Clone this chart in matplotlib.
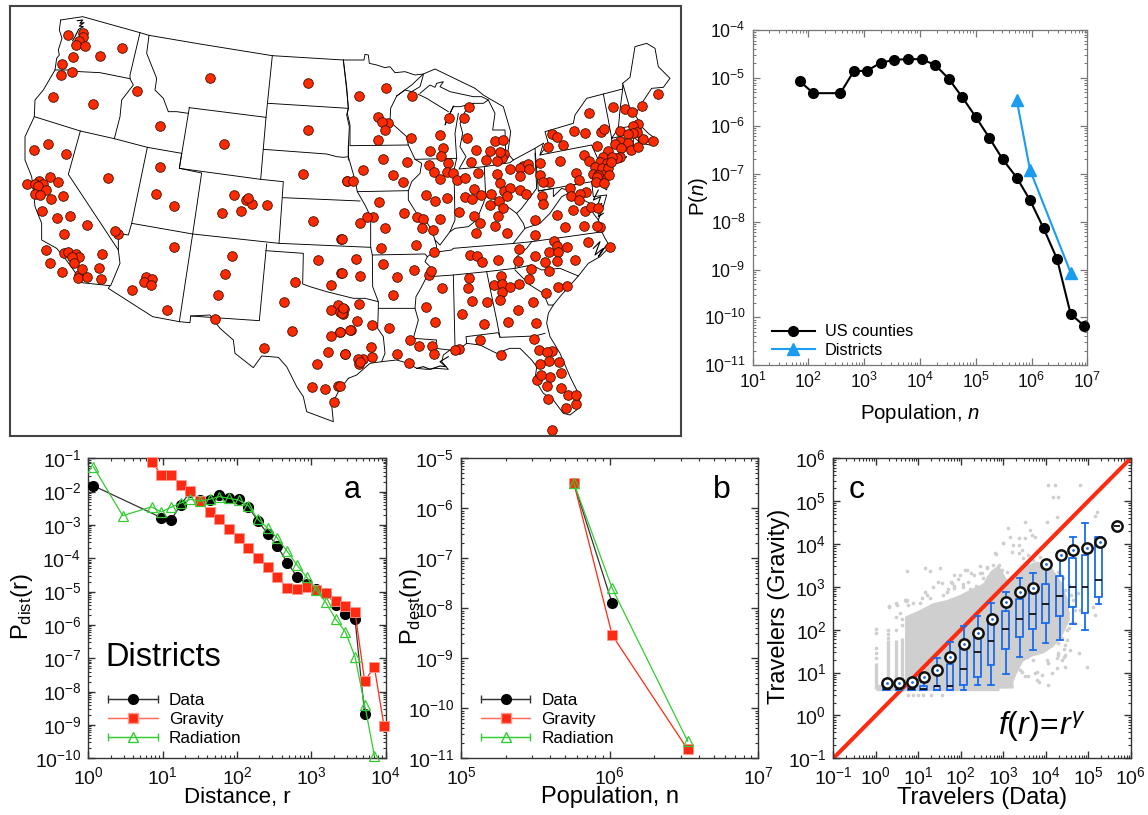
import numpy as np
import matplotlib
matplotlib.use("Agg")
import matplotlib.pyplot as plt
from matplotlib.ticker import LogLocator, NullFormatter
from matplotlib.container import ErrorbarContainer
from matplotlib.legend_handler import HandlerErrorbar

plt.rcParams['font.family'] = ['Liberation Sans', 'DejaVu Sans']
plt.rcParams['mathtext.fontset'] = 'custom'
plt.rcParams['mathtext.rm'] = 'Liberation Sans'
plt.rcParams['mathtext.it'] = 'Liberation Sans:italic'
plt.rcParams['mathtext.bf'] = 'Liberation Sans:bold'
plt.rcParams['mathtext.fallback'] = 'stix'

W, H = 1148, 815

# ---- map sites (map units, west and east halves of the map) ----
sites_west = [(204,105),(250,98),(248,110),(236,124),(229,136),(254,138),(300,167),(365,145),(218,171),(186,193),(215,215),(182,225),(412,273),(158,292),(280,311),(480,378),(631,234),(924,248),(923,389),(145,432),(101,451),(198,461),(671,432),(480,500),(325,533),(149,530),(173,545),(81,551),(118,543),(105,552),(128,552),(113,558),(139,570),(104,582),(120,586),(153,597),(188,587),(468,582),(522,619),(127,632),(170,654),(211,647),(261,675),(191,701),(355,702),(346,694),(702,584),(737,600),(756,612),(745,595),(800,615),(667,639),(722,634),(909,522),(1040,543),(938,662),(1023,718),(137,749),(150,789),(185,815),(193,760),(205,755),(228,762),(238,772),(215,770),(222,790),(305,762),(298,803),(302,838),(236,824),(233,835),(245,808),(260,831),(523,740),(695,769),(675,821),(653,884),(646,956),(395,871),(438,830),(456,838),(431,847),(454,856),(500,930),(886,845),(853,906),(875,992),(791,1043),(953,780),(1022,820),(993,855),(1015,915),(992,930),(1030,943),(1020,935),(1032,926),(1021,997),(994,1008),(984,1055),(1036,1062),(951,1093),(936,1161),(975,1166),(1013,1157),(1001,1207)]
sites_east = [(138,264),(56,289),(216,288),(115,350),(143,368),(127,367),(135,390),(115,420),(214,414),(128,478),(68,511),(20,543),(38,543),(158,524),(188,545),(201,487),(299,406),(270,452),(308,443),(304,467),(268,494),(323,490),(283,516),(320,515),(339,520),(300,538),(350,540),(376,533),(326,355),(372,353),(387,321),(382,413),(407,450),(392,487),(413,519),(438,481),(449,452),(464,423),(488,421),(492,462),(485,475),(472,482),(480,455),(509,506),(471,522),(481,549),(402,568),(376,592),(396,597),(423,585),(452,582),(257,585),(286,604),(322,594),(117,606),(192,638),(232,650),(248,657),(300,658),(247,685),(280,691),(134,683),(98,652),(82,652),(61,669),(123,743),(227,734),(283,757),(358,635),(403,649),(419,668),(409,698),(464,678),(502,700),(451,615),(476,604),(488,625),(475,647),(493,574),(510,564),(501,587),(541,571),(558,583),(548,498),(540,503),(565,491),(568,508),(541,528),(601,488),(659,483),(599,525),(627,545),(609,545),(606,587),(610,613),(585,659),(584,705),(651,644),(700,630),(675,681),(732,679),(736,632),(753,622),(775,625),(781,680),(770,677),(810,741),(743,725),(689,564),(693,589),(737,575),(720,583),(716,600),(707,518),(718,541),(731,466),(746,484),(771,437),(636,401),(651,412),(670,435),(623,442),(701,394),(734,400),(748,339),(784,395),(791,386),(820,320),(855,326),(875,336),(905,318),(955,281),(839,394),(895,372),(880,377),(940,424),(910,416),(892,397),(880,398),(863,403),(839,424),(825,432),(865,428),(843,445),(874,450),(893,440),(805,454),(790,470),(840,470),(830,475),(815,470),(780,485),(800,490),(765,500),(785,505),(805,505),(812,485),(760,522),(790,525),(808,525),(775,525),(770,530),(768,547),(793,548),(641,722),(650,737),(626,757),(653,757),(681,740),(650,783),(616,786),(706,779),(585,768),(537,747),(534,784),(573,807),(566,838),(628,814),(537,851),(474,781),(390,765),(412,767),(425,787),(387,833),(383,865),(268,826),(273,812),(305,863),(257,920),(286,966),(395,902),(442,907),(367,943),(432,971),(482,828),(461,855),(487,852),(509,862),(485,875),(481,900),(534,930),(580,907),(618,880),(653,860),(682,857),(503,966),(587,970),(582,1017),(420,1021),(358,1047),(345,1049),(482,1064),(636,1052),(598,1049),(621,1057),(627,1084),(601,1092),(656,1086),(663,1119),(631,1131),(592,1140),(603,1125),(621,1158),(663,1163),(685,1184),(709,1213),(708,1186),(677,1224),(624,1197),(637,1289),(57,912),(5,940),(10,925),(51,964),(97,975),(34,990),(146,983),(0,997),(30,990),(16,1062),(92,1042),(70,1078),(96,1072),(55,1078),(58,1092),(60,1085),(172,1062),(206,1088),(211,1019),(238,1039),(275,1038),(283,1063),(47,777),(129,793),(171,831),(222,809),(61,828),(5,820),(5,718),(158,885),(0,1158)]

# ---- map borders ----
borders_west = [
 [(182,60),(178,90),(186,115),(175,150),(178,165),(170,175),(165,210),(130,270),(105,300),(103,350),(75,410),(75,480),(95,530),(100,570),(105,620),(125,670),(125,720),(170,745),(195,775),(235,830),(245,848),(330,857),(325,865),(458,950),(538,965),(570,968),(572,948),(630,945),(660,985),(700,1020),(705,1060),(760,1103),(785,1068),(835,1072),(860,1100),(890,1160),(910,1190),(920,1235),(1000,1265),(995,1215),(1015,1175),(1045,1135)],
 [(182,60),(248,50),(420,98),(447,106),(600,132),(817,167),(1030,180)],
 [(165,210),(215,210),(240,215),(300,218),(390,236)],
 [(420,98),(390,225),(390,236),(400,255),(365,300),(360,350),(343,416)],
 [(103,350),(241,393),(343,416),(442,442),(545,460)],
 [(241,393),(205,523),(355,750),(360,790),(332,857)],
 [(442,442),(395,670),(385,705),(355,700),(355,750)],
 [(395,670),(578,702),(538,965)],
 [(545,460),(538,505),(605,519),(578,702)],
 [(568,323),(798,352),(782,538),(538,505),(568,323)],
 [(447,106),(440,160),(470,235),(465,270),(490,295),(505,335),(530,335),(565,340)],
 [(817,167),(798,352)],
 [(805,310),(1045,325)],
 [(1030,180),(1040,270),(1045,325),(1040,345),(1048,380),(1045,440),(1045,480)],
 [(790,448),(980,462),(1010,470),(1030,472),(1045,470)],
 [(782,538),(850,545),(837,730),(578,702)],
 [(848,593),(1080,603)],
 [(837,730),(1112,742)],
 [(800,732),(798,752),(778,962),(572,948)],
 [(798,752),(910,760),(908,852),(930,860),(980,875),(1020,885),(1060,895),(1095,895),(1135,905)],
]
borders_east = [
 [(10,180),(72,180),(75,163),(85,165),(88,190),(110,195),(135,203),(150,200),(165,218),(195,215),(225,225),(250,222),(215,255),(170,288)],
 [(250,222),(285,207),(405,265),(430,285),(450,297),(490,320),(512,395),(508,425),(503,460),(520,480),(585,445),(610,430)],
 [(170,288),(195,270),(215,275),(240,260),(250,225)],
 [(240,280),(270,255),(285,262),(290,250),(310,245),(300,260),(330,275),(400,290),(425,290),(445,300),(430,310),(400,310),(360,320),(340,320),(330,340),(315,375),(340,318)],
 [(235,283),(260,295),(325,335)],
 [(355,340),(345,400),(350,475),(342,510),(345,660),(330,695)],
 [(400,310),(375,335),(360,370),(368,400),(360,440),(378,470),(357,507),(433,500),(510,488),(520,480)],
 [(445,300),(465,340),(458,390),(495,390),(497,450),(490,470),(497,482)],
 [(10,180),(20,260),(25,325),(22,340),(30,375),(30,437),(205,435),(200,410),(150,365),(152,325),(170,288)],
 [(25,437),(25,470),(45,540),(52,575),(205,572),(215,545),(240,520),(245,490),(225,478),(205,435)],
 [(225,478),(350,475)],
 [(52,575),(75,615),(92,650),(92,742),(97,765),(98,860),(115,905),(115,925),(113,985),(130,1010),(135,1060),(125,1085),(90,1090),(50,1125),(25,1135)],
 [(205,572),(205,600),(230,640),(250,650),(275,690),(285,720),(290,740),(283,755),(262,770),(255,785),(270,800),(260,830),(245,860),(228,890),(225,925),(115,925)],
 [(97,765),(255,762),(262,770)],
 [(125,1085),(170,1080),(205,1090),(230,1105),(260,1108),(290,1105),(325,1108),(305,1085),(310,1065),(330,1050),(285,1045),(290,1020),(220,1015),(235,960),(225,925)],
 [(330,1050),(345,1040),(358,1048),(380,1030),(378,1010),(475,998),(480,1012),(585,1008),(615,1000)],
 [(340,825),(345,1040)],
 [(380,1030),(420,1035),(470,1060),(510,1045),(540,1045),(575,1080),(590,1100),(585,1140),(610,1180),(640,1200),(670,1240),(690,1245),(712,1228),(720,1190),(690,1130),(660,1060),(630,1010),(620,970),(625,940),(640,915),(660,890),(715,828),(745,790),(780,770),(810,740),(795,715),(785,695)],
 [(270,830),(340,825),(440,815),(525,805),(575,795),(605,810),(660,805),(715,828)],
 [(525,810),(570,855),(610,880),(625,915),(640,915)],
 [(440,815),(470,960),(480,1012)],
 [(283,757),(335,750),(340,745),(525,730),(575,725),(790,695)],
 [(575,725),(560,745),(530,770),(525,805)],
 [(285,720),(300,735),(330,695),(345,685),(385,680),(410,660),(430,610),(437,590),(470,600),(510,625),(530,640),(550,670),(555,685),(520,730)],
 [(433,500),(437,590)],
 [(585,460),(590,565),(545,625),(530,640)],
 [(610,430),(600,465),(755,435),(775,480),(760,510),(775,525),(755,545),(595,573),(585,445)],
 [(595,573),(640,565),(640,590),(665,565),(695,575),(665,590),(630,640),(600,670),(555,685)],
 [(695,575),(730,600),(750,610),(760,640),(775,660),(790,695)],
 [(755,545),(760,590),(800,585),(790,620),(775,660)],
 [(775,480),(810,500),(800,570),(775,550),(775,525)],
 [(600,465),(625,430),(615,395),(700,370),(705,345),(740,295),(790,282),(805,360),(815,415),(815,470),(812,490)],
 [(815,500),(860,470),(820,495)],
 [(790,282),(848,267),(840,330),(835,385)],
 [(815,415),(835,385),(895,375),(905,380),(925,400),(945,415),(930,435),(905,430),(885,415),(880,400),(815,415)],
 [(815,470),(880,440),(880,400),(895,405),(895,435),(880,440)],
 [(848,267),(848,250),(868,320),(885,345),(895,360),(895,375)],
 [(848,250),(870,232),(885,140),(920,130),(945,145),(955,200),(990,235),(970,262),(935,265),(905,310),(885,345)],
]
coast_detail_west = [[(232,62),(248,60),(240,70),(252,68),(238,78),(250,80),(236,88),(225,110),(218,122)]]
coast_detail_east = [
 [(230,1105),(250,1100),(270,1108),(300,1098),(318,1100),(300,1085),(325,1070)],
 [(760,745),(780,725),(765,765),(790,745),(775,770),(800,735)],
 [(775,570),(760,600),(782,590),(770,625),(785,610),(775,650),(790,640)],
]

# ---- top right: population distribution ----
county_n = [70,122,373,648,1138,1974,3470,6100,10700,18800,32700,57700,1.0e5,1.75e5,3.04e5,5.42e5,9.4e5,1.65e6,2.87e6,5.03e6,8.85e6]
county_p = [8.5e-6,4.8e-6,4.8e-6,1.37e-5,1.42e-5,2.08e-5,2.37e-5,2.48e-5,2.45e-5,1.86e-5,9.6e-6,3.9e-6,1.53e-6,5.6e-7,2.0e-7,8.3e-8,2.8e-8,7.2e-9,1.65e-9,1.18e-10,6.6e-11]
district_n = [5.42e5,9.4e5,5.03e6]
district_p = [3.47e-6,1.19e-7,8.6e-10]

# ---- panel a ----
a_r_all = [1.17,9.6,12.9,17.5,23.6,31.8,42.9,57.8,78,105,142,192,259,349,475,641,865,1156,1560,2123,2865,3865,5215]
a_data = [1.5e-2,1.66e-3,1.41e-3,4e-3,1e-2,5.6e-3,5.6e-3,7.9e-3,6.3e-3,5.9e-3,3.5e-3,1.32e-3,5.4e-4,2.3e-4,7.4e-5,2.8e-5,1.7e-5,1.2e-5,9.3e-6,4e-6,2.2e-6,1.5e-6,2.1e-9]
a_r_grav = [7.1,9.6,12.9,17.5,23.6,31.8,42.9,57.8,78,105,142,192,259,349,475,641,865,1156,1560,2123,2865,3865,5215,7047,9500]
a_grav = [7.9e-2,3.2e-2,3.2e-2,1.6e-2,1.07e-2,5.2e-3,2.5e-3,1.48e-3,7.4e-4,4.2e-4,2.1e-4,1.02e-4,5.5e-5,2.7e-5,1.32e-5,1.2e-5,1.41e-5,1.12e-5,9.3e-6,5.4e-6,3.8e-6,2.4e-6,2.1e-8,5.4e-8,9.3e-10]
a_r_rad = [1.17,2.9,7.1,9.6,12.9,17.5,23.6,31.8,42.9,57.8,78,105,142,192,259,349,475,641,865,1156,1560,2123,2865,3865,5215,7047]
a_rad = [5.6e-2,1.9e-3,3.5e-3,2.45e-3,3.4e-3,4.5e-3,5.9e-3,5.2e-3,5.9e-3,7.1e-3,6.3e-3,5.6e-3,3.8e-3,1.48e-3,7.9e-4,4e-4,1.6e-4,6.3e-5,2.7e-5,1.12e-5,4.8e-6,1.5e-6,6.3e-7,1.12e-7,4e-9,1.2e-10]

# ---- panel b ----
b_n = [5.75e5,1.04e6,3.35e6]
b_data = [3.16e-6,1.26e-8]
b_grav = [3.16e-6,2.9e-9,1.5e-11]
b_rad = [3.16e-6,2.5e-8,2.2e-11]

# ---- panel c ----
c_mean_x = [1.8,3.6,7.1,13.9,28,57,122,260,535,1165,2490,5130,10200,22500,44800,94000,190000,470000]
c_mean_y = [5.6,5.8,6.1,7.9,11.5,22.7,45.6,82,175,444,745,942,3410,5530,7250,8200,10900,26300]
box_x = [1.8,3.6,7.1,13.5,28,57,118,250,520,1165,2450,5030,10000,21600,44000,85000,178000]
box_lo = [3.93,3.93,3.93,3.93,3.93,3.93,3.93,5.14,5.14,9.1,23.5,33.7,48.2,56.6,136,98.6,392]
box_q1 = [3.93,3.93,3.93,3.93,3.93,3.93,5.14,7.8,15,36.1,66.5,104,144,205,333,241,590]
box_med = [4.14,4.14,4.14,4.14,4.95,4.95,12.1,30.2,53.6,104,175,233,398,601,1012,975,1472]
box_q3 = [4.7,4.7,4.7,4.95,4.95,15.8,48,75,169,278,512,719,1146,1793,4634,5636,14800]
box_hi = [5.14,5.14,5.14,6,22.3,52.7,122,213,428,773,1610,2143,3412,5534,14300,30300,14800]
# dense part of the grey cloud: envelope in log10 travelers
cloud_log_x = [0.69,1.04,1.35,1.67,1.98,2.30,2.53,2.69,2.89,3.12,3.47,3.79,4.10,4.34,4.53,4.57,4.38,4.18,3.95,3.67,3.47,3.32,3.24,3.24,0.69]
cloud_log_y = [2.305,2.46,2.62,2.69,2.81,2.97,3.08,3.35,3.51,3.12,3.47,3.59,3.51,3.16,2.69,2.23,1.84,1.60,1.45,1.37,1.26,0.98,0.79,0.63,0.59]
# grey columns at the smallest data values
col_log_x = [0.0,0.29,0.48,0.62]
col_log_top = [1.22,1.76,1.76,1.80]
col_dots_x = [0.0,0.0,0.0,0.0,0.0,0.29,0.29,0.29,0.48,0.48,0.62,0.62]
col_dots_y = [2.01,1.92,1.57,1.45,1.33,2.0,1.9,1.8,2.3,2.0,2.25,2.1]
# individually read grey points (log10 travelers)
stray_log_x = [4.06,4.22,4.81,4.18,4.30,5.20,5.16,4.26,3.51,4.02,3.12,3.63,3.67,3.16,3.36,3.51,3.75,3.00,3.24,3.36,3.43,2.81,3.20,3.36,2.89,5.16,5.12,4.97,4.78,4.46,4.30,4.26,4.38,4.46,4.06,4.14,3.83,4.06,3.43,3.59,3.79,3.55,3.40,3.16,4.46,4.53,4.49,4.30,4.22,4.18,4.34,4.61,4.38,4.65,4.10,4.02,4.30,3.87,3.71,3.47,3.59,0.73,0.48,0.30,0.49,1.83,1.79,2.14,2.30,1.55,1.83,2.77,2.45,2.61,1.98,2.18,1.35,1.20,1.04,0.88,0.73,0.57,1.67,2.06,1.16,1.28,1.51,2.10,2.45,2.49,1.47,1.76,1.83,1.93,2.06,1.71,2.22,2.35,2.47,2.65,1.16,0.70,0.30,0.77,0.88,1.0,1.12,1.30,1.57,4.70,4.60,4.55,4.42,4.50,4.42,4.35,4.55,4.40,4.33,2.24,2.53,1.59,1.08,1.28,2.65,2.85,2.96,3.08,0.77,0.69,2.61,2.82,2.99,4.30,4.42,4.57,4.46,4.02,3.71,3.75,3.91,3.51,3.79,4.06,4.26,3.40,4.69,4.81,4.77]
stray_log_y = [5.38,5.38,5.38,5.10,5.09,4.75,4.65,4.64,4.52,4.52,4.37,4.33,4.21,4.17,4.13,4.13,4.17,4.02,3.98,3.98,3.86,3.78,3.82,3.78,3.51,2.34,2.54,1.14,1.45,1.41,1.45,1.33,1.29,1.14,1.22,0.98,0.79,0.71,1.02,0.91,1.02,1.37,1.39,1.14,2.93,2.38,1.99,1.68,2.15,2.62,3.08,2.19,1.80,2.69,3.47,3.59,3.35,3.70,3.63,3.67,3.74,3.37,2.62,2.54,2.58,3.28,3.08,3.39,3.28,3.08,2.97,3.51,3.32,3.43,3.28,3.12,3.00,2.81,2.62,2.62,2.69,2.38,2.89,3.00,3.43,3.38,3.43,3.39,3.49,3.33,3.12,3.12,3.02,3.18,3.07,2.94,2.94,3.02,3.00,3.08,2.89,2.68,2.55,0.477,0.477,0.477,0.477,0.477,0.477,2.45,2.80,3.05,1.55,1.75,2.35,2.75,2.05,3.2,3.3,3.32,3.21,2.81,2.75,2.73,3.24,3.32,3.39,3.35,2.58,2.69,3.47,3.77,4.02,1.41,1.37,1.53,1.64,1.29,1.29,0.98,0.94,0.91,0.83,1.22,1.10,1.06,2.15,2.46,2.85]
floor_log_y = [0.695,0.61]
floor_log_x_end = [3.24,2.9]


def axes_px(left, top, right, bottom):
    return fig.add_axes([left / W, 1 - bottom / H, (right - left) / W, (bottom - top) / H])


def style_log(ax, size, frame, lw, xpad):
    ax.set_xscale('log')
    ax.set_yscale('log')
    for axis in (ax.xaxis, ax.yaxis):
        axis.set_major_locator(LogLocator(base=10, numticks=30))
        axis.set_minor_locator(LogLocator(base=10, subs=range(2, 10), numticks=30))
        axis.set_minor_formatter(NullFormatter())
    ax.tick_params(which='major', direction='in', top=True, right=True, length=5, width=lw,
                   color=frame, labelsize=size, pad=5, labelcolor='#111111')
    ax.tick_params(axis='x', which='major', pad=xpad)
    ax.tick_params(which='minor', direction='in', top=True, right=True, length=2.5, width=lw * 0.8, color=frame)
    for s in ax.spines.values():
        s.set_color(frame)
        s.set_linewidth(lw)


fig = plt.figure(figsize=(W / 100, H / 100), dpi=100)

# ======= map =======
m = axes_px(10, 6, 681, 436)
m.set_xlim(30, 2043)
m.set_ylim(1308, 18)
m.set_xticks([])
m.set_yticks([])
for s in m.spines.values():
    s.set_color('#444444')
    s.set_linewidth(1.5)
for line in borders_west:
    p = np.array(line)
    m.plot(p[:, 0], p[:, 1], color='black', lw=0.65, solid_joinstyle='round', zorder=1)
for line in borders_east:
    p = np.array(line)
    m.plot(p[:, 0] + 1020, p[:, 1], color='black', lw=0.65, solid_joinstyle='round', zorder=1)
for line in coast_detail_west:
    p = np.array(line)
    m.plot(p[:, 0], p[:, 1], color='black', lw=0.8, zorder=1)
for line in coast_detail_east:
    p = np.array(line)
    m.plot(p[:, 0] + 1020, p[:, 1], color='black', lw=0.8, zorder=1)
sw = np.array(sites_west)
se = np.array(sites_east)
m.scatter(sw[:, 0], sw[:, 1], s=48, c='#ff2a00', edgecolors='#3a1000', linewidths=0.6, zorder=2)
m.scatter(se[:, 0] + 1020, se[:, 1], s=48, c='#ff2a00', edgecolors='#3a1000', linewidths=0.6, zorder=2)

# ======= top right =======
t = axes_px(752.7, 30, 1087.3, 365.3)
style_log(t, 12.7, '#777777', 0.9, 5)
t.set_xlim(10, 1e7)
t.set_ylim(1e-11, 1e-4)
t.plot(county_n, county_p, '-o', color='black', lw=1.5, ms=7, clip_on=False, zorder=3, label='US counties')
t.plot(district_n, district_p, '-^', color='#1a9cf0', lw=1.5, ms=8, clip_on=False, zorder=2, label='Districts')
t.set_xlabel('Population, $n$', fontsize=14.7, va='center')
t.xaxis.set_label_coords(0.5, -0.145)
t.set_ylabel('P($n$)', fontsize=14.7, va='center')
t.yaxis.set_label_coords(-0.163, 0.503)
t.legend(loc='lower left', bbox_to_anchor=(0.058, 0.022), frameon=False, fontsize=11.8, handlelength=2.6,
         labelspacing=0.22, borderpad=0, borderaxespad=0, handletextpad=0.6)

# ======= panels a, b =======
BLACK, RED, GREEN = '#333333', '#ff2a12', '#33cc33'


def series(ax, x, y, kind):
    if kind == 'data':
        ax.plot(x, y, '-o', color=BLACK, lw=0.9, ms=7, mfc='black', mec='black', zorder=3, clip_on=False)
    elif kind == 'grav':
        ax.plot(x, y, '-s', color=RED, lw=0.9, ms=6.8, mfc=RED, mec='#ff9a90', mew=0.6, zorder=4, clip_on=False)
    else:
        ax.plot(x, y, '-^', color=GREEN, lw=0.9, ms=7.5, mfc='none', mec=GREEN, mew=0.9, zorder=5, clip_on=False)


def model_legend(ax, anchor):
    h1 = ax.errorbar([np.nan], [np.nan], xerr=[1], fmt='-o', color=BLACK, lw=0.9, ms=7, mfc='black', mec='black', capsize=3, elinewidth=0.9, label='Data')
    h2 = ax.errorbar([np.nan], [np.nan], xerr=[1], fmt='-s', color='#ff6a5a', lw=0.9, ms=6.8, mfc=RED, mec='#ff9a90', capsize=0, elinewidth=0.9, label='Gravity')
    h3 = ax.errorbar([np.nan], [np.nan], xerr=[1], fmt='-^', color=GREEN, lw=0.9, ms=7.5, mfc='none', mec=GREEN, capsize=3, elinewidth=0.9, label='Radiation')
    ax.legend(handles=[h1, h2, h3], loc='lower left', bbox_to_anchor=anchor, frameon=False, fontsize=12.3,
              handlelength=2.9, labelspacing=0.24, borderpad=0, borderaxespad=0, handletextpad=0.65,
              numpoints=1, handler_map={ErrorbarContainer: HandlerErrorbar(xerr_size=1.45, numpoints=1)})


a = axes_px(88.3, 458.3, 385.7, 758.3)
style_log(a, 14, '#333333', 1.0, 5.5)
a.set_xlim(1, 1e4)
a.set_ylim(1e-10, 1e-1)
series(a, a_r_all, a_data, 'data')
series(a, a_r_grav, a_grav, 'grav')
series(a, a_r_rad, a_rad, 'rad')
a.set_xlabel('Distance, r', fontsize=16, va='center')
a.xaxis.set_label_coords(0.5, -0.132)
a.set_ylabel(r'P$_{\mathrm{dist}}$(r)', fontsize=17, va='center')
a.yaxis.set_label_coords(-0.222, 0.505)
a.text(0.056, 0.335, 'Districts', transform=a.transAxes, fontsize=23.5, va='center', ha='left')
a.text(0.858, 0.895, 'a', transform=a.transAxes, fontsize=22, va='center', ha='left')
model_legend(a, (0.067, 0.04))

b = axes_px(461, 458.3, 758.3, 758.3)
style_log(b, 14, '#333333', 1.0, 5.5)
b.set_xlim(1e5, 1e7)
b.set_ylim(1e-11, 1e-5)
series(b, b_n[:2], b_data, 'data')
series(b, b_n, b_grav, 'grav')
series(b, b_n, b_rad, 'rad')
b.set_xlabel('Population, n', fontsize=17, va='center')
b.xaxis.set_label_coords(0.5, -0.13)
b.set_ylabel(r'P$_{\mathrm{dest}}$(n)', fontsize=17, va='center')
b.yaxis.set_label_coords(-0.168, 0.505)
b.text(0.847, 0.895, 'b', transform=b.transAxes, fontsize=23, va='center', ha='left')
model_legend(b, (0.067, 0.04))

# ======= panel c =======
c = axes_px(833.3, 458.3, 1130.7, 758.3)
style_log(c, 14, '#333333', 1.0, 5.5)
GREY = '#cfcfcf'
c.fill(10 ** np.array(cloud_log_x), 10 ** np.array(cloud_log_y), color=GREY, lw=0, zorder=1)
c.vlines(10 ** np.array(col_log_x), 10 ** floor_log_y[1], 10 ** np.array(col_log_top), color=GREY, lw=2.4, zorder=1)
c.hlines(10 ** np.array(floor_log_y), 1, 10 ** np.array(floor_log_x_end), color=GREY, lw=2.4, zorder=1)
c.scatter(10 ** np.array(col_dots_x), 10 ** np.array(col_dots_y), s=7, c=GREY, lw=0, zorder=1)
c.scatter(10 ** np.array(stray_log_x), 10 ** np.array(stray_log_y), s=7, c=GREY, lw=0, zorder=1)
c.plot([0.1, 1e6], [0.1, 1e6], color='#ff2a10', lw=2.9, zorder=2, solid_capstyle='butt')
stats = [dict(whislo=l, q1=q1, med=md, q3=q3, whishi=h, fliers=[]) for l, q1, md, q3, h in zip(box_lo, box_q1, box_med, box_q3, box_hi)]
bx = np.array(box_x)
BLUE = '#1a6cf0'
c.bxp(stats, positions=bx, widths=0.36 * bx, capwidths=0.30 * bx, manage_ticks=False, showfliers=False,
      boxprops=dict(color=BLUE, lw=1.3), whiskerprops=dict(color=BLUE, lw=1.3), capprops=dict(color=BLUE, lw=1.3),
      medianprops=dict(color='black', lw=1.2), zorder=3)
c.plot(c_mean_x, c_mean_y, 'o', ms=7.4, mfc='white', mec='#111111', mew=1.8, zorder=4)
c.plot(c_mean_x[:-1], c_mean_y[:-1], '.', ms=2, color=BLUE, zorder=5)
c.plot(c_mean_x[-1:], c_mean_y[-1:], '_', ms=5, color='black', mew=1.2, zorder=5)
c.set_xlim(0.1, 1e6)
c.set_ylim(0.1, 1e6)
c.set_xlabel('Travelers (Data)', fontsize=17, va='center')
c.xaxis.set_label_coords(0.5, -0.132)
c.set_ylabel('Travelers (Gravity)', fontsize=17, va='center')
c.yaxis.set_label_coords(-0.182, 0.505)
c.text(0.05, 0.895, 'c', transform=c.transAxes, fontsize=23, va='center', ha='left')
c.text(0.555, 0.105, r'$f(r)\!=\!r^{\gamma}$', transform=c.transAxes, fontsize=23, va='center', ha='left')

fig.savefig('out.png', dpi=100)
